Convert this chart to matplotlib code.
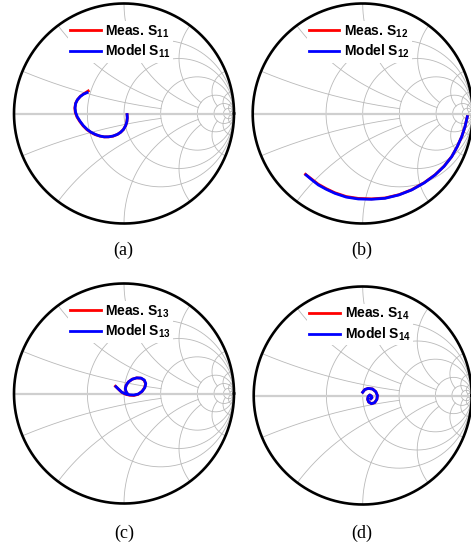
import numpy as np
import matplotlib
matplotlib.use("Agg")
import matplotlib.pyplot as plt

plt.rcParams['font.family'] = ['Liberation Sans', 'DejaVu Sans']
plt.rcParams['mathtext.fontset'] = 'custom'
plt.rcParams['mathtext.rm'] = 'Liberation Sans:bold'
plt.rcParams['mathtext.bf'] = 'Liberation Sans:bold'
plt.rcParams['mathtext.it'] = 'Liberation Sans:bold'

# ---------------- data (reflection coefficient, real / imag) ----------------
s11_model_re = [-0.335, -0.37, -0.40, -0.425, -0.44, -0.445, -0.44, -0.425, -0.40, -0.37, -0.335,
                -0.30, -0.26, -0.22, -0.18, -0.14, -0.10, -0.06, -0.03, -0.005, 0.015, 0.026, 0.03, 0.028]
s11_model_im = [0.19, 0.175, 0.152, 0.123, 0.09, 0.05, 0.01, -0.03, -0.07, -0.11, -0.145,
                -0.17, -0.19, -0.205, -0.212, -0.212, -0.205, -0.19, -0.17, -0.145, -0.11, -0.075, -0.04, -0.01]
s11_meas_re = [-0.325, -0.36, -0.395, -0.422, -0.44, -0.447, -0.443, -0.427, -0.402, -0.372, -0.337,
               -0.30, -0.262, -0.22, -0.18, -0.14, -0.10, -0.06, -0.03, -0.005, 0.015, 0.026, 0.03, 0.028]
s11_meas_im = [0.205, 0.183, 0.158, 0.127, 0.093, 0.05, 0.01, -0.032, -0.072, -0.112, -0.147,
               -0.172, -0.192, -0.205, -0.213, -0.212, -0.206, -0.19, -0.17, -0.145, -0.11, -0.075, -0.04, -0.01]

s12_model_re = [-0.515, -0.46, -0.403, -0.33, -0.252, -0.15, -0.04, 0.08, 0.203, 0.33, 0.445,
                0.56, 0.657, 0.74, 0.809, 0.86, 0.90, 0.93, 0.951]
s12_model_im = [-0.559, -0.605, -0.65, -0.69, -0.726, -0.76, -0.777, -0.78, -0.771, -0.74, -0.695,
                -0.63, -0.559, -0.48, -0.393, -0.30, -0.211, -0.12, -0.029]
s12_meas_re = [-0.52, -0.462, -0.405, -0.332, -0.254, -0.15, -0.04, 0.08, 0.203, 0.33, 0.445,
               0.56, 0.657, 0.74, 0.809, 0.86, 0.90, 0.93, 0.951]
s12_meas_im = [-0.553, -0.598, -0.642, -0.683, -0.72, -0.755, -0.772, -0.776, -0.768, -0.738, -0.693,
               -0.628, -0.558, -0.479, -0.392, -0.30, -0.211, -0.12, -0.029]

s13_model_re = [-0.073, -0.045, -0.02, 0.01, 0.05, 0.09, 0.13, 0.165, 0.19, 0.198, 0.185,
                0.155, 0.115, 0.075, 0.04, 0.02, 0.012, 0.018, 0.03]
s13_model_im = [0.062, 0.035, 0.012, -0.002, -0.012, -0.014, -0.005, 0.02, 0.055, 0.09, 0.122,
                0.14, 0.142, 0.13, 0.105, 0.075, 0.045, 0.018, 0.0]
s13_meas_re = [-0.078, -0.048, -0.02, 0.012, 0.052, 0.09, 0.128, 0.162, 0.187, 0.196, 0.184,
               0.155, 0.115, 0.075, 0.04, 0.02, 0.012, 0.018, 0.03]
s13_meas_im = [0.066, 0.037, 0.01, -0.006, -0.016, -0.018, -0.008, 0.017, 0.052, 0.088, 0.12,
               0.139, 0.142, 0.13, 0.105, 0.075, 0.045, 0.018, 0.0]

s14_model_re = [0.0, 0.02, 0.05, 0.09, 0.12, 0.135, 0.13, 0.11, 0.08, 0.055, 0.045, 0.05, 0.065, 0.08, 0.085, 0.075]
s14_model_im = [0.03, 0.055, 0.065, 0.06, 0.035, 0.0, -0.035, -0.065, -0.075, -0.06, -0.035, -0.01, 0.005, -0.005, -0.02, -0.03]
s14_meas_re = s14_model_re
s14_meas_im = s14_model_im

panel_labels = ['(a)', '(b)', '(c)', '(d)']
param_names = ['11', '12', '13', '14']

# grid values: resistance circles (r, max |x|), reactance arcs (x, max r)
r_grid = [(0.5, np.inf), (1, np.inf), (2, np.inf), (5, np.inf), (10, np.inf), (20, np.inf), (50, np.inf)]
x_grid = [(0.2, 2), (0.5, 2), (1, 5), (2, 5), (5, 10), (10, 20), (20, 50), (50, 50)]

W, H = 471, 549
fig = plt.figure(figsize=(W / 100, H / 100), dpi=100)

# circle centre (px) and radius (px)
geom = [(124, 113.5, 110), (362.7, 113.5, 110), (124, 393.5, 110), (362.7, 395.5, 109)]
label_pos = [(123, 250), (362, 250), (124, 533), (362, 533)]

GRID_C = '#b9b9b9'


def gamma(z):
    return (z - 1) / (z + 1)


def draw_grid(ax):
    t = np.linspace(-np.pi / 2 + 1e-4, np.pi / 2 - 1e-4, 1500)
    for r, xl in r_grid:
        if np.isinf(xl):
            xs = np.tan(t)
        else:
            xs = np.linspace(-xl, xl, 1500)
        g = gamma(r + 1j * xs)
        ax.plot(g.real, g.imag, color=GRID_C, lw=0.6, zorder=1)
    for x, rl in x_grid:
        rs = np.concatenate([np.linspace(0, 1, 400), np.linspace(1, rl, 1500)])
        for s in (1, -1):
            g = gamma(rs + 1j * s * x)
            ax.plot(g.real, g.imag, color=GRID_C, lw=0.6, zorder=1)
    ax.plot([-1, 1], [0, 0], color='#cfcfcf', lw=1.6, zorder=1)
    th = np.linspace(0, 2 * np.pi, 720)
    ax.plot(np.cos(th), np.sin(th), color='black', lw=1.9, zorder=5, clip_on=False)


data = [
    (s11_meas_re, s11_meas_im, s11_model_re, s11_model_im),
    (s12_meas_re, s12_meas_im, s12_model_re, s12_model_im),
    (s13_meas_re, s13_meas_im, s13_model_re, s13_model_im),
    (s14_meas_re, s14_meas_im, s14_model_re, s14_model_im),
]

for i in range(4):
    cx, cy, R = geom[i]
    ax = fig.add_axes([(cx - R) / W, 1 - (cy + R) / H, 2 * R / W, 2 * R / H])
    ax.set_xlim(-1, 1)
    ax.set_ylim(-1, 1)
    ax.axis('off')
    draw_grid(ax)
    mre, mim, dre, dim = data[i]
    p = param_names[i]
    ax.plot(mre, mim, color='#ff0000', lw=2.0, zorder=3,
            label=r'Meas. S$_{\mathbf{' + p + '}}$')
    ax.plot(dre, dim, color='#0000ff', lw=2.0, zorder=4,
            label=r'Model S$_{\mathbf{' + p + '}}$')
    leg = ax.legend(loc='upper left', bbox_to_anchor=(0.245, 0.92), borderaxespad=0,
                    borderpad=0.15, frameon=True, fancybox=False, framealpha=1,
                    facecolor='white', edgecolor='none', handlelength=2.2,
                    handletextpad=0.35, labelspacing=0.25,
                    prop={'weight': 'bold', 'size': 10})
    leg.set_zorder(6)
    fig.text(label_pos[i][0] / W, 1 - label_pos[i][1] / H, panel_labels[i],
             ha='center', va='center', fontsize=13, family='Liberation Serif')

fig.savefig('out.png', dpi=100)
